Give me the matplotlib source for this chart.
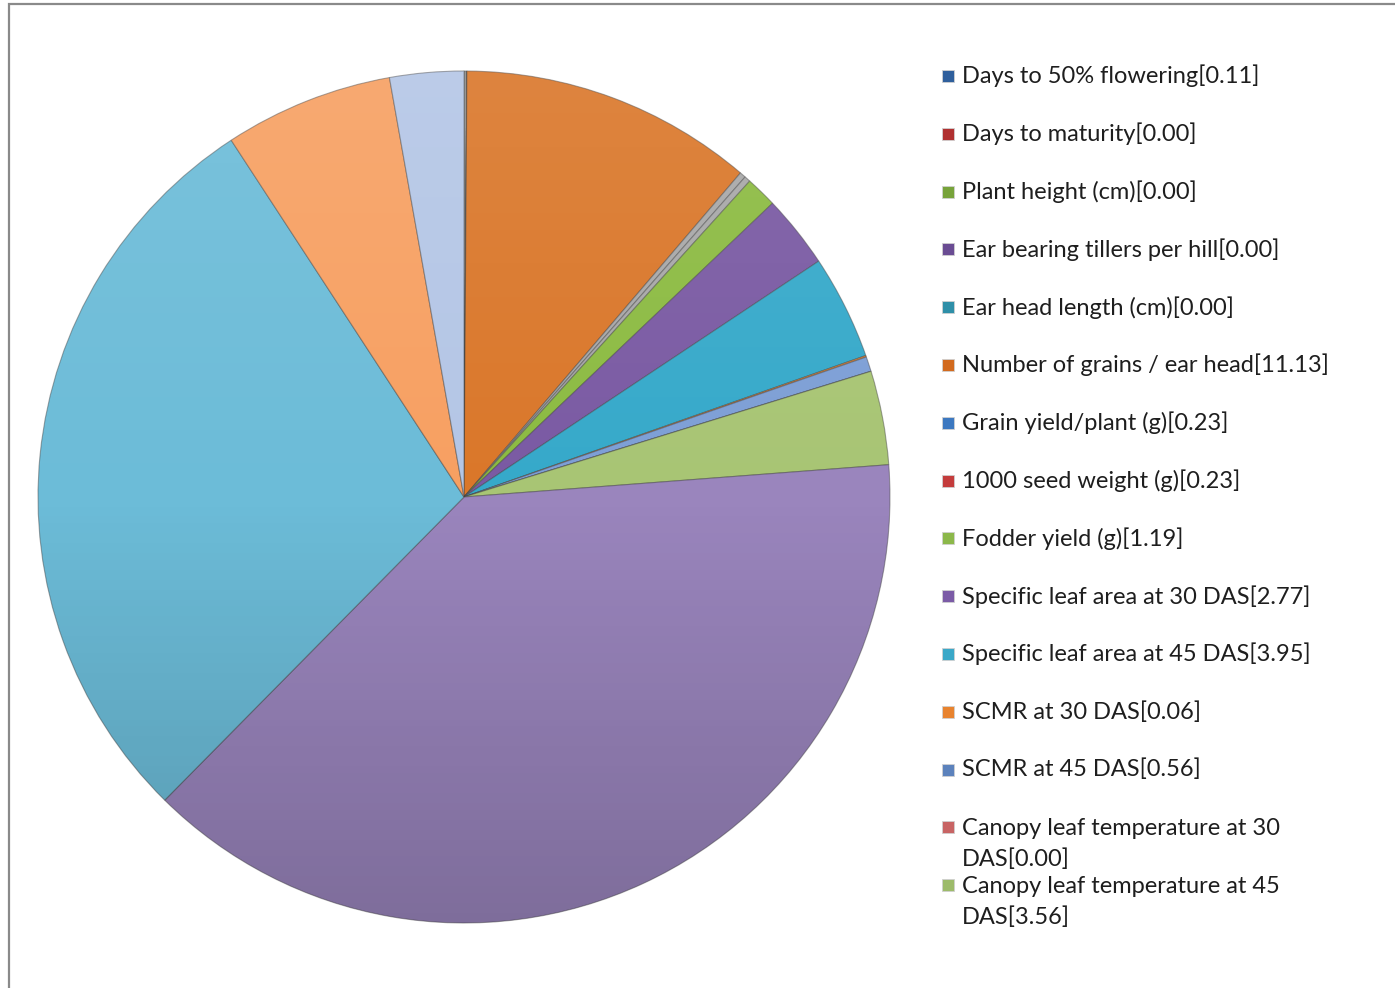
import numpy as np
import matplotlib.pyplot as plt
from matplotlib.patches import Rectangle, Circle

# slices, clockwise from 12 o'clock (the last 4 are not shown in the legend)
labels = ['Days to 50% flowering', 'Days to maturity', 'Plant height (cm)',
          'Ear bearing tillers per hill', 'Ear head length (cm)',
          'Number of grains / ear head', 'Grain yield/plant (g)',
          '1000 seed weight (g)', 'Fodder yield (g)',
          'Specific leaf area at 30 DAS', 'Specific leaf area at 45 DAS',
          'SCMR at 30 DAS', 'SCMR at 45 DAS',
          'Canopy leaf temperature at 30 DAS', 'Canopy leaf temperature at 45 DAS',
          '', '', '', '']
values = [0.11, 0.00, 0.00, 0.00, 0.00, 11.13, 0.23, 0.23, 1.19, 2.77, 3.95,
          0.06, 0.56, 0.00, 3.56, 38.6, 28.4, 6.4, 2.8]
legend_text = ['Days to 50% flowering[0.11]', 'Days to maturity[0.00]',
               'Plant height (cm)[0.00]', 'Ear bearing tillers per hill[0.00]',
               'Ear head length (cm)[0.00]', 'Number of grains / ear head[11.13]',
               'Grain yield/plant (g)[0.23]', '1000 seed weight (g)[0.23]',
               'Fodder yield (g)[1.19]', 'Specific leaf area at 30 DAS[2.77]',
               'Specific leaf area at 45 DAS[3.95]', 'SCMR at 30 DAS[0.06]',
               'SCMR at 45 DAS[0.56]', 'Canopy leaf temperature at 30\nDAS[0.00]',
               'Canopy leaf temperature at 45\nDAS[3.56]']
colors = ['#8C8C8C', '#B03030', '#77A33A', '#6A4C93', '#2E8FA8', '#DA772A',
          '#A8A8A8', '#A8A8A8', '#8CBB42', '#7A5AA3', '#36A9CA', '#E8832E',
          '#7D9FD6', '#C86464', '#A8C574', '#9A85BD', '#6CBCD8', '#F7A062',
          '#B4C6E6']
legend_colors = ['#2F5F9C', '#B03030', '#77A33A', '#6A4C93', '#2E8FA8', '#D26A1E',
                 '#3C78C0', '#C43C3C', '#8CB84A', '#7B5BA6', '#3AA8C8', '#E8832E',
                 '#5C82BC', '#C86464', '#9DBB6A']

plt.rcParams['font.family'] = ['Lato', 'DejaVu Sans']

fig = plt.figure(figsize=(13.95, 9.88), dpi=100)
W, H = 1395, 988

# outer frame (cut by the right and bottom edges)
fig.add_artist(Rectangle((9 / W, -0.05), 1.1, (H - 4) / H + 0.05, transform=fig.transFigure,
                         fill=False, edgecolor='#8a8a8a', linewidth=1.6))

cx, cy, r = 464, 497, 426
ax = fig.add_axes([(cx - r) / W, (H - cy - r) / H, 2 * r / W, 2 * r / H])
wedges, _ = ax.pie(values, colors=colors, startangle=90, counterclock=False, radius=1,
                   wedgeprops=dict(edgecolor=(0.25, 0.25, 0.25, 0.45), linewidth=0.8))

# light top / dark bottom shading like the Excel bevel
g = np.linspace(0, 1, 256)
shade = np.zeros((256, 1, 4))
shade[:, 0, :3] = np.where(g > 0.5, 1.0, 0.0)[:, None]
shade[:, 0, 3] = np.where(g > 0.5, (g - 0.5) * 0.2, (0.5 - g) * 0.36)
im = ax.imshow(shade, extent=[-1, 1, -1, 1], origin='lower', aspect='auto', zorder=3)
im.set_clip_path(Circle((0, 0), 1, transform=ax.transData))
ax.set_xlim(-1, 1)
ax.set_ylim(-1, 1)
ax.set_aspect('equal')
ax.axis('off')

# legend, fixed pitch like the original
y0, pitch = 76, 57.8
for i, (t, c) in enumerate(zip(legend_text, legend_colors)):
    y = y0 + i * pitch
    fig.add_artist(Rectangle((942 / W, (H - y - 6) / H), 12 / W, 12 / H,
                             transform=fig.transFigure, facecolor=c,
                             edgecolor='#d0d0d0', linewidth=0.6))
    if '\n' in t:
        fig.text(962 / W, (H - y + 9) / H, t, fontsize=17, color='#1e1e1e',
                 va='top', linespacing=1.5)
    else:
        fig.text(962 / W, (H - y) / H, t, fontsize=17, color='#1e1e1e', va='center')

fig.savefig('out.png', dpi=100)
